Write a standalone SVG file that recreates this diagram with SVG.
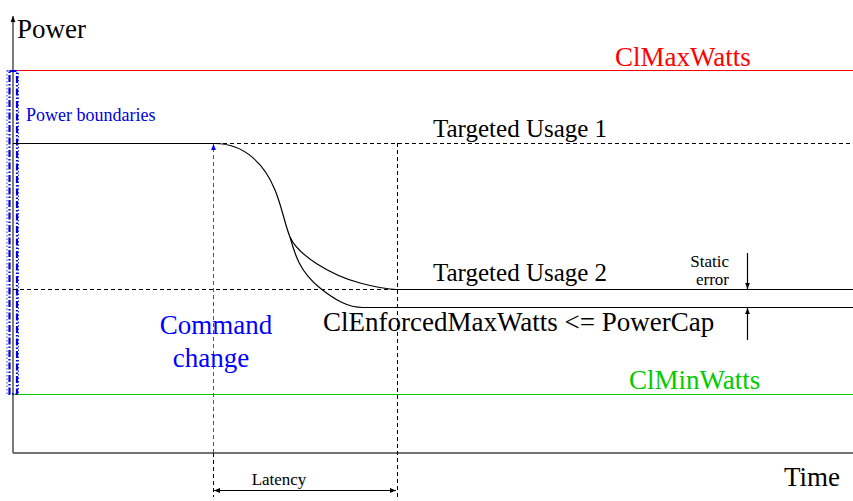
<svg xmlns="http://www.w3.org/2000/svg" width="853" height="501" viewBox="0 0 853 501">
<style>
text{font-family:"Liberation Serif","Times New Roman",serif}
.big{font-size:27px}
.mid{font-size:25px}
.sm{font-size:17px}
.dash{stroke:#000;stroke-width:1;stroke-dasharray:4 3;fill:none}
.solid{stroke:#000;stroke-width:1.2;fill:none}
.axis{stroke:#444;stroke-width:1.4;fill:none}
</style>
<defs>
<marker id="ah" viewBox="0 0 10 10" refX="10" refY="5" markerWidth="8" markerHeight="6" orient="auto-start-reverse" markerUnits="userSpaceOnUse">
<path d="M0,1 L10,5 L0,9 z" fill="#000"/>
</marker>
<marker id="ahb" viewBox="0 0 10 10" refX="10" refY="5" markerWidth="10" markerHeight="6" orient="auto" markerUnits="userSpaceOnUse">
<path d="M0,1 L10,5 L0,9 z" fill="#0000ff"/>
</marker>
</defs>
<rect width="853" height="501" fill="#fff"/>
<g id="axes">
<line class="axis" x1="13" y1="453" x2="13" y2="16" marker-end="url(#ah)"/>
<line class="axis" x1="13" y1="453" x2="853" y2="453"/>
<text id="power" class="big" x="17" y="38">Power</text>
<text id="time" class="big" x="784" y="486">Time</text>
</g>
<g id="boundaries">
<line x1="13" y1="70.5" x2="853" y2="70.5" stroke="#ff0000" stroke-width="1.2"/>
<text class="big" x="615" y="66" fill="#ff0000">ClMaxWatts</text>
<line x1="13" y1="394.5" x2="853" y2="394.5" stroke="#00cc00" stroke-width="1.2"/>
<text class="big" x="629" y="389" fill="#00cc00">ClMinWatts</text>
<rect x="7" y="70.5" width="11.5" height="323.5" fill="none" stroke="#3333ee" stroke-width="1" stroke-dasharray="1.5 2"/>
<rect x="9.5" y="71" width="7.5" height="323" fill="none" stroke="#0000dd" stroke-width="2.2" stroke-dasharray="7 2 1.5 2"/>
<text class="sm" x="26" y="121" fill="#0000dd" style="font-size:18px">Power boundaries</text>
</g>
<g id="targets">
<line class="dash" x1="13" y1="143.5" x2="853" y2="143.5"/>
<text class="mid" x="433" y="137">Targeted Usage 1</text>
<line class="dash" x1="13" y1="289.5" x2="397" y2="289.5"/>
<text class="mid" x="433" y="281">Targeted Usage 2</text>
<text class="big" x="323" y="331">ClEnforcedMaxWatts &lt;= PowerCap</text>
</g>
<g id="connectors">
<path class="solid" d="M13,143.5 H215 C245,143.5 265,165 275,190 C282,207 285,225 290,237 C298,255 330,275 360,283 C375,287 385,289.5 397,289.5 H853"/>
<path class="solid" d="M290,237 C295,255 300,272 320,288 C335,300 348,307.5 363,307.5 H853"/>
<line x1="213.5" y1="453" x2="213.5" y2="144" stroke="#3344ff" stroke-width="1" stroke-dasharray="4 3" marker-end="url(#ahb)"/>
<line class="dash" x1="213.5" y1="453" x2="213.5" y2="497"/>
<line class="dash" x1="397.5" y1="143" x2="397.5" y2="497"/>
<line class="solid" x1="214" y1="490.5" x2="396" y2="490.5" marker-start="url(#ah)" marker-end="url(#ah)"/>
<line class="solid" x1="747.5" y1="253" x2="747.5" y2="289" marker-end="url(#ah)"/>
<line class="solid" x1="747.5" y1="340" x2="747.5" y2="308" marker-end="url(#ah)"/>
</g>
<g id="labels">
<text class="big" x="216" y="334" text-anchor="middle" fill="#0000ff">Command</text>
<text class="big" x="211" y="367" text-anchor="middle" fill="#0000ff">change</text>
<text class="sm" x="729" y="267" text-anchor="end">Static</text>
<text class="sm" x="729" y="285" text-anchor="end">error</text>
<text class="sm" x="279" y="485" text-anchor="middle">Latency</text>
</g>
</svg>
